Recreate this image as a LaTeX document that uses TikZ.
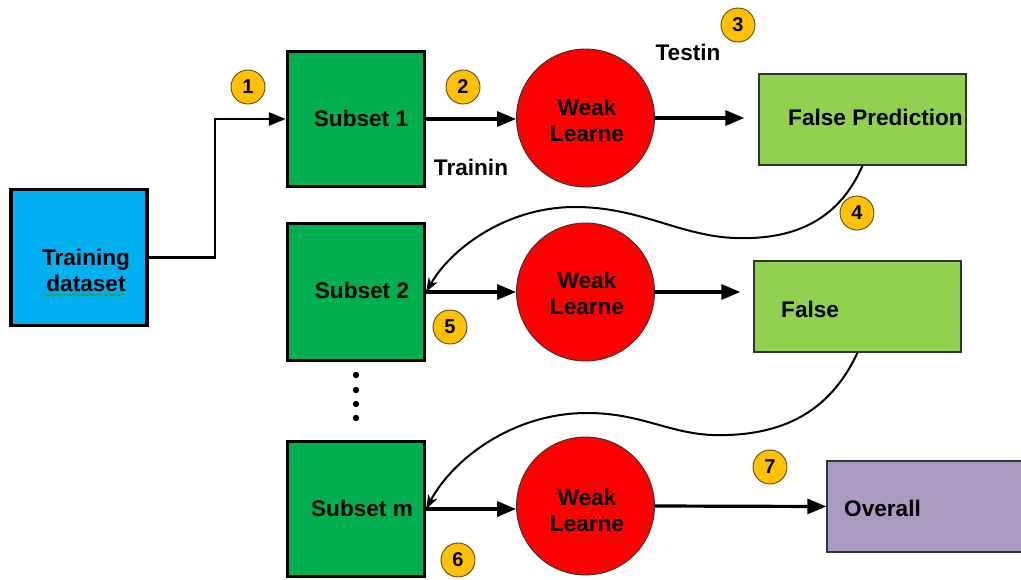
\documentclass[tikz,border=0pt]{standalone}
\usepackage{fontspec}
\setmainfont{Liberation Sans}
\usetikzlibrary{arrows.meta,decorations.pathmorphing}

\definecolor{trainblue}{HTML}{00B0F0}
\definecolor{subgreen}{HTML}{00B050}
\definecolor{wlred}{HTML}{FF0000}
\definecolor{falsegreen}{HTML}{92D050}
\definecolor{overallpurple}{HTML}{A99AC0}
\definecolor{badgeyellow}{HTML}{FFC000}
\definecolor{badgeedge}{HTML}{5A4A20}
\definecolor{squiggle}{HTML}{3C9A3C}

\tikzset{
  lbl/.style={font=\bfseries\fontsize{22.6}{26}\selectfont, inner sep=0pt, align=center},
  databox/.style={draw=black, line width=3.4pt, fill=trainblue, minimum width=136pt, minimum height=136pt, inner sep=0pt},
  subsetbox/.style={draw=black, line width=3.4pt, fill=subgreen, minimum width=137pt, inner sep=0pt},
  learner/.style={circle, draw=black!80, line width=0.9pt, fill=wlred, minimum size=138pt, inner sep=0pt},
  resultbox/.style={draw=black!80, line width=1.3pt, minimum height=91pt, inner sep=0pt},
  badge/.style={circle, draw=badgeedge, line width=0.9pt, fill=badgeyellow, minimum size=34pt, inner sep=0pt,
                font=\bfseries\fontsize{20}{20}\selectfont},
  flow/.style={line width=3.2pt, -{Triangle[length=19pt,width=15pt]}},
  feed/.style={line width=2.9pt, -{Triangle[length=17pt,width=13pt]}},
  loopback/.style={line width=2pt, -{Stealth[length=14pt,width=10pt,inset=4pt]}},
}

\begin{document}
\begin{tikzpicture}[x=1pt,y=-1pt]
  \useasboundingbox (0,0) rectangle (1021,579);
  \clip (0,0) rectangle (1021,579);

  % input data
  \node[databox] (train) at (79,257.5) {};
  \node[lbl] (traintext) at (86,270) {Training\\dataset};
  \draw[squiggle, line width=0.8pt, decorate,
        decoration={snake, amplitude=1.1pt, segment length=4pt}] (44,295) -- (124,295);

  % subsets
  \node[subsetbox, minimum height=135pt] (sub1) at (356,119) {};
  \node[subsetbox, minimum height=137pt] (sub2) at (356,292) {};
  \node[subsetbox, minimum height=135pt] (subm) at (356,509) {};
  \node[lbl] (sub1t) at (361,118) {Subset 1};
  \node[lbl] (sub2t) at (362,290) {Subset 2};
  \node[lbl] (submt) at (362,508) {Subset m};

  % ellipsis between subset 2 and subset m
  \foreach \yy in {375,390,404,418}
    \fill (356,\yy) circle (3.2pt);

  % weak learners
  \node[learner] (wl1) at (585.5,118) {};
  \node[learner] (wl2) at (585.5,292) {};
  \node[learner] (wl3) at (585.5,506) {};
  \node[lbl] (wl1t) at (587,120) {Weak\\Learne};
  \node[lbl] (wl2t) at (587,293) {Weak\\Learne};
  \node[lbl] (wl3t) at (587,510) {Weak\\Learne};

  % results
  \node[resultbox, fill=falsegreen, minimum width=207pt] (fp1) at (862.5,119.5) {};
  \node[resultbox, fill=falsegreen, minimum width=207pt] (fp2) at (857.5,306.5) {};
  \node[resultbox, fill=overallpurple, minimum width=230pt] (ov) at (942,506.5) {};
  \node[lbl, anchor=west] (fp1t) at (788,117) {False Prediction};
  \node[lbl, anchor=west] (fp2t) at (781,309) {False};
  \node[lbl, anchor=west] (ovt) at (844,508) {Overall};

  % phase labels
  \node[lbl] (testlbl) at (688,52) {Testin};
  \node[lbl] (trainlbl) at (471,167) {Trainin};

  % connectors
  \draw[feed] (train.east) -- (215,257.5) |- (sub1.west);
  \draw[flow] (sub1.east) -- (sub1.east -| wl1.west);
  \draw[flow, shorten >=14pt] (wl1.east) -- (wl1.east -| fp1.west);
  \draw[flow] (sub2.east) -- (sub2.east -| wl2.west);
  \draw[flow, shorten >=13pt] (wl2.east) -- (wl2.east -| fp2.west);
  \draw[flow] (subm.east) -- (subm.east -| wl3.west);
  \draw[flow] (wl3.east) -- (ov.west);

  % feedback of false predictions
  \draw[loopback] (fp1.south)
      .. controls (838,222) and (792,240) .. (735,238)
      .. controls (680,236) and (640,207) .. (575,207)
      .. controls (505,207) and (450,250) .. (sub2.east);
  \draw[loopback] (fp2.south)
      .. controls (830,412) and (782,437) .. (712,435)
      .. controls (668,433) and (640,413) .. (587,413)
      .. controls (512,413) and (452,460) .. (subm.east);

  % step badges
  \node[badge] (b1) at (248,87) {1};
  \node[badge] (b2) at (463,87) {2};
  \node[badge] (b3) at (738,25) {3};
  \node[badge] (b4) at (857,213) {4};
  \node[badge] (b5) at (450,327) {5};
  \node[badge] (b6) at (458,560) {6};
  \node[badge] (b7) at (770,467) {7};
\end{tikzpicture}
\end{document}
